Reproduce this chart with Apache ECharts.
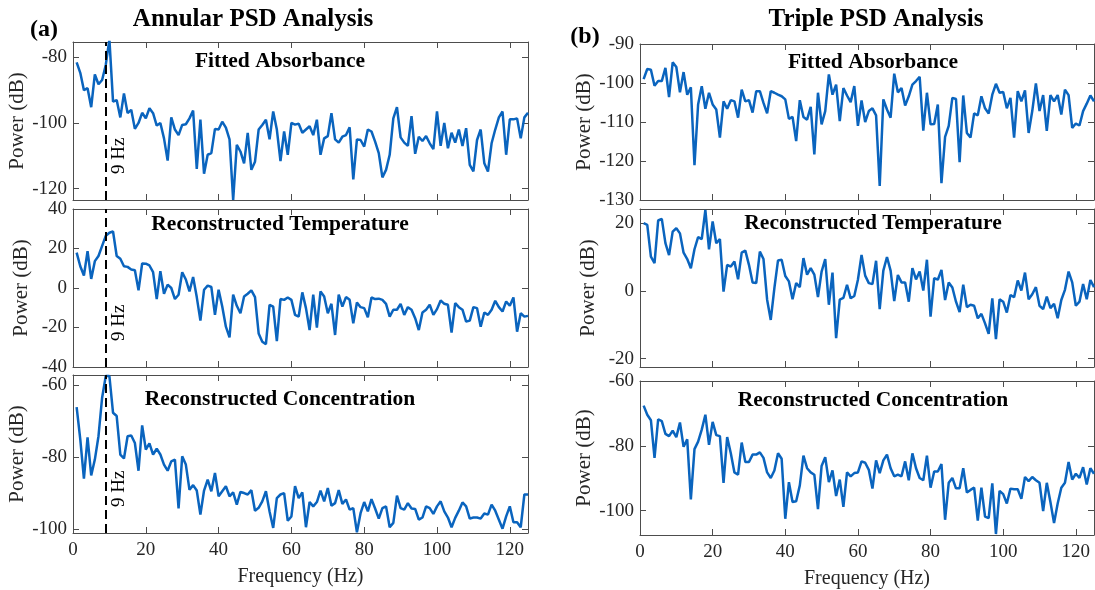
<!DOCTYPE html>
<html>
<head>
<meta charset="utf-8">
<title>Annular and Triple PSD Analysis</title>
<script src="https://cdn.jsdelivr.net/npm/echarts@6/dist/echarts.min.js"></script>
<style>
  html, body { margin: 0; padding: 0; background: #fff; }
  #chart { width: 1095px; height: 590px; }
</style>
</head>
<body>
<div id="chart"></div>
<script>
// frequency bins (Hz) shared by every panel
var freqHz = [];
for (var f = 1; f <= 125; f++) {
    freqHz.push(f);
}
var freqTicks = [0, 20, 40, 60, 80, 100, 120];
var markerHz = 9;

// (a) annular beam
var annularAbsorbance = [
    -81.5, -84.7, -90, -89.4, -95.2, -85.2, -88.2, -86.9, -82.3, -74.5,
    -93.5, -93, -98.3, -91, -97, -96, -101.8, -100, -96.9, -98.6,
    -95.5, -97, -100.8, -100, -104.7, -111.5, -98.3, -102, -103.7, -100.6,
    -100.4, -98.6, -96.2, -114, -99, -115.5, -109.7, -109.2, -101.8, -102,
    -99.6, -101.4, -105, -123.5, -106.7, -108.7, -112.3, -103, -114.3, -111.8,
    -102, -100.6, -99, -105, -96.5, -102, -111.6, -102.6, -109.7, -100,
    -100.5, -100.2, -103, -102, -101, -103.7, -99, -109.7, -104.7, -104,
    -97, -105, -106, -104.2, -103.7, -101.3, -117.2, -105, -105.2, -107.2,
    -102, -102.6, -105.7, -109.2, -116.6, -114.3, -109.7, -98.6, -95.2, -104.4,
    -106, -107, -97.9, -109.4, -104.2, -105.5, -104, -106.2, -108, -96.5,
    -107, -100, -107.7, -103, -106, -102, -107, -101.6, -112.8, -114.8,
    -105.2, -102, -112.3, -114.8, -106.2, -102, -98.3, -96.5, -109.7, -98.9,
    -98.9, -98.6, -104.7, -98.3, -96.9
];
var annularTemperature = [
    17.9, 11, 6.3, 18.7, 4.6, 13.6, 16.2, 21.3, 26.4, 28,
    28.6, 16.2, 14.8, 11, 10.7, 9.4, 9, -1.2, 12.4, 12.3,
    11.4, 8, -5.6, 8.5, -2.9, 1.7, 0, -5.6, -3.4, 8,
    4.3, -1.7, 5.6, -4.6, -16.5, -0.9, 1.2, 0.5, -13.6, -0.9,
    -9.4, -19.6, -25, -3.4, -9, -12.8, -4.3, -2.9, -1.2, -4.6,
    -23, -27.2, -28.4, -8.5, -9.4, -26.9, -5.6, -6, -4.8, -6,
    -13.6, -14.5, -2.2, -10.2, -21.3, -3.4, -20, -1.7, -4.3, -12.8,
    -8, -23.8, -3.4, -9.4, -4.6, -6, -17.9, -7.3, -9.7, -10.2,
    -14.8, -4.8, -5.6, -5.4, -6, -8, -14.5, -11, -11, -8,
    -13.6, -9.7, -11, -15.3, -21.3, -12.4, -11, -8.5, -13.6, -10.7,
    -6.3, -8, -8.5, -22.6, -7.7, -9.7, -11, -17, -16.5, -9.7,
    -10.2, -19.6, -12.4, -13.6, -11, -6.5, -9.7, -11.9, -6.8, -9,
    -4.8, -22.1, -12.8, -14.5, -14.1
];
var annularConcentration = [
    -66, -75, -85.9, -74.4, -85, -80.6, -74.1, -63.4, -57.4, -57.4,
    -67.6, -68.5, -79.2, -80.3, -74.1, -73.9, -76, -83.7, -71.1, -77.8,
    -76.1, -79.2, -77.6, -79.2, -82, -83.7, -81.1, -80.6, -94.2, -79.7,
    -82, -89, -87.7, -89.2, -95.9, -89.2, -86.2, -89.4, -84.3, -90.8,
    -89.4, -88, -90.8, -89.7, -93.1, -89.6, -89.9, -90.3, -89.1, -94.8,
    -94, -92.2, -89.4, -95, -99.6, -91.3, -90.3, -89.9, -97.6, -96.4,
    -88, -91.3, -89.7, -99.4, -92.4, -93.6, -92.4, -89.2, -92.2, -88.5,
    -93.4, -92.7, -89.1, -92.9, -91.7, -94.5, -94.1, -100.8, -95.5, -92.4,
    -95, -91.6, -94.2, -97, -94.1, -93.6, -99.4, -98.2, -90.6, -94.1,
    -94.5, -92.7, -94.2, -94.3, -97.3, -96.7, -93.6, -94.1, -95.7, -93.6,
    -92.2, -95, -96.7, -99.4, -96.8, -94.8, -92.5, -93.6, -97, -96.7,
    -96.7, -97, -95.6, -95.9, -93.1, -94.8, -97.3, -99.8, -96.4, -93.6,
    -98, -98, -99.4, -90.3, -90.3
];

// (b) triple beam
var tripleAbsorbance = [
    -99, -96.4, -96.6, -100.7, -99.5, -99.5, -96.1, -103.6, -94.7, -95.9,
    -102.4, -97.2, -103, -101.1, -121.1, -105.5, -100.8, -106.6, -102.5, -105.5,
    -106.8, -114, -104.7, -106.6, -104.4, -104.7, -108.9, -101.7, -104.7, -104.4,
    -107.6, -102.1, -102.1, -105.1, -107.8, -102.1, -102.5, -103, -103.4, -104.2,
    -109.2, -108.7, -114.9, -104.4, -108.7, -109.4, -106.1, -118.3, -102.5, -110.6,
    -107.2, -97.8, -103, -100.4, -109.8, -101.3, -103.2, -104.9, -100.8, -111,
    -104.5, -110, -107.2, -106.5, -108.3, -126.4, -104.2, -106.8, -108.9, -97.6,
    -102.4, -101.3, -105.8, -103.4, -100.4, -99.5, -98.4, -112.2, -102.5, -110.6,
    -110.5, -105.5, -125.7, -113.8, -111, -103.8, -104.1, -120.3, -103.2, -112.8,
    -114, -107.8, -108.3, -103.4, -106.5, -107.8, -103, -100.2, -102.5, -102.3,
    -106.5, -103.8, -114, -102.1, -104.7, -101.9, -112.8, -107.2, -100.1, -107.2,
    -103.1, -112.3, -103.1, -104.7, -103.1, -108.1, -101.7, -103.1, -111.5, -110.4,
    -110.9, -107.2, -105.3, -103.2, -104.7
];
var tripleTemperature = [
    20, 19.5, 10.1, 8.2, 20.8, 21.3, 14.1, 10.6, 17.5, 18.5,
    17, 11.3, 9.4, 6.7, 12.3, 15.9, 15.3, 23.9, 12.3, 20.5,
    14.1, 15.3, -0.2, 7.7, 7.2, 8.7, 3.4, 11.3, 11.9, 7.7,
    2.5, 2.3, 11.6, 9.4, -2.6, -8.6, 0.8, 9, 9.2, 4.4,
    2.8, -2.5, 2.3, 1.1, 9.7, 4.8, 6.7, 4.8, -1.8, 5.7,
    9.4, -4.1, 5.4, -14, -2.6, -2.1, 1.8, -2.2, -1.5, 3.3,
    10.6, 4.5, 2.3, 2, 8.9, -5.4, 6, 10, 6, -3,
    4.7, 2.5, 2.5, -3.2, 6.7, 3.4, 5.7, 0.1, 9.2, -7.6,
    3.8, 3.3, 6.2, -2.7, 2.5, 1, -3.2, -6.3, 1.8, -4.8,
    -4.1, -4.4, -8.1, -6.8, -9.6, -12.7, -2.2, -14.3, -2.5, -3.2,
    -6.4, -1.2, -1.9, 3.1, 0.1, 5.4, -2.5, -1, 1.1, -4.4,
    -5.4, -1.7, -5.1, -3.8, -8.1, -2.7, 0.3, 5.7, 2.5, -4.4,
    -3.2, 2, -2.5, 3.2, 1.1
];
var tripleConcentration = [
    -67.6, -70.4, -72.1, -83.7, -71.8, -72.4, -76.3, -77, -75.3, -77.3,
    -72.8, -80.3, -78, -96.5, -81, -78.7, -75, -70.4, -79.7, -72.6,
    -76.7, -77, -91.4, -77.3, -82.3, -88.2, -88.9, -79, -85, -85,
    -82.7, -82.7, -82, -83.7, -88.2, -89.9, -87.6, -82.3, -84, -102.5,
    -91.2, -97.3, -97.1, -92.2, -83, -86.9, -88.2, -88.9, -99.5, -86.2,
    -83.5, -91.2, -87.6, -95.5, -90.4, -98.8, -88.2, -89.4, -88.4, -88.2,
    -84.8, -85.2, -87.4, -93.2, -84.5, -88.4, -84.5, -82.7, -86.9, -89.4,
    -88.9, -89.4, -84.8, -90.6, -82.3, -86.9, -89.9, -90.6, -83, -92.9,
    -87.9, -87.9, -85.6, -102.8, -91.4, -89.9, -93.1, -93.1, -86.9, -94.4,
    -93.6, -92.9, -103.1, -92.9, -101.8, -102.3, -91.6, -107.2, -93.9, -94.9,
    -97.8, -93.2, -93.4, -93.4, -96.3, -89.6, -90.9, -89.6, -90.6, -91.4,
    -100.1, -91.4, -97.3, -103.8, -97.8, -92.9, -91.4, -85, -90.4, -88.6,
    -89.9, -86.6, -91.9, -86.9, -88.6
];

// y tick values and y limits of each panel, top to bottom
var annularTicks = [[-120, -100, -80], [-40, -20, 0, 20, 40], [-100, -80, -60]];
var tripleTicks = [[-130, -120, -110, -100, -90], [-20, 0, 20], [-100, -80, -60]];
var annularLimits = [[-123.5, -75.3], [-40, 40], [-101, -57.1]];
var tripleLimits = [[-130, -90], [-22.5, 24.2], [-107.5, -60]];

var panelNames = ['Fitted Absorbance', 'Reconstructed Temperature', 'Reconstructed Concentration'];

var SERIF = '"Liberation Serif", "Times New Roman", serif';
var AXIS_COLOR = '#4d4d4d';
var TEXT_COLOR = '#262626';
var LINE_COLOR = '#0a64be';

function pairs(values) {
    return values.map(function (v, i) {
        return [freqHz[i], v];
    });
}

var grids = [], xAxes = [], yAxes = [], series = [], titles = [];

/**
 * Adds one boxed MATLAB-like panel: grid, 2 x axes, 2 y axes and the PSD line.
 */
function addPanel(box, values, ticks, limits, showFreq, withMarker) {
    var k = grids.length;
    grids.push(box);

    var lineStyle = {show: true, onZero: false, lineStyle: {color: AXIS_COLOR, width: 1}};
    var tickStyle = {show: true, inside: true, length: 6, lineStyle: {color: AXIS_COLOR, width: 1}};

    xAxes.push({
        gridIndex: k, type: 'value', min: 0, max: 125, interval: 20, position: 'bottom',
        axisLine: lineStyle, axisTick: tickStyle, splitLine: {show: false},
        axisLabel: {show: showFreq, fontFamily: SERIF, fontSize: 19, color: TEXT_COLOR, margin: 8},
        name: showFreq ? 'Frequency (Hz)' : '', nameLocation: 'middle', nameGap: 34,
        nameTextStyle: {fontFamily: SERIF, fontSize: 20, color: TEXT_COLOR}
    });
    xAxes.push({
        gridIndex: k, type: 'value', min: 0, max: 125, interval: 20, position: 'top',
        axisLine: lineStyle, axisTick: tickStyle, splitLine: {show: false},
        axisLabel: {show: false}
    });
    yAxes.push({
        gridIndex: k, type: 'value', min: limits[0], max: limits[1], position: 'left',
        axisLine: lineStyle, splitLine: {show: false},
        axisTick: Object.assign({customValues: ticks}, tickStyle),
        axisLabel: {customValues: ticks, fontFamily: SERIF, fontSize: 19, color: TEXT_COLOR, margin: 6},
        name: 'Power (dB)', nameLocation: 'middle', nameGap: 41,
        nameTextStyle: {fontFamily: SERIF, fontSize: 21, color: TEXT_COLOR}
    });
    yAxes.push({
        gridIndex: k, type: 'value', min: limits[0], max: limits[1], position: 'right',
        axisLine: lineStyle, splitLine: {show: false},
        axisTick: Object.assign({customValues: ticks}, tickStyle),
        axisLabel: {show: false}
    });

    var s = {
        type: 'line', xAxisIndex: 2 * k, yAxisIndex: 2 * k,
        data: pairs(values), showSymbol: false, clip: true,
        lineStyle: {color: LINE_COLOR, width: 2.5}
    };
    if (withMarker) {
        // the "9 Hz" note sits a little below the middle of the dashed line,
        // so it hangs on a short invisible segment of its own
        var span = limits[1] - limits[0];
        var anchor = limits[0] + 0.28 * span;
        s.markLine = {
            silent: true, symbol: ['none', 'none'],
            lineStyle: {color: '#000', type: [9, 5], width: 2},
            label: {
                show: false, fontFamily: SERIF, fontSize: 19, color: '#000', distance: 4,
                position: 'insideMiddleBottom', formatter: markerHz + ' Hz'
            },
            data: [
                {xAxis: markerHz},
                [
                    {
                        coord: [markerHz, anchor - 0.05 * span],
                        lineStyle: {color: 'rgba(0,0,0,0)', width: 0},
                        label: {show: true}
                    },
                    {coord: [markerHz, anchor + 0.05 * span]}
                ]
            ]
        };
    }
    series.push(s);
}

var annularData = [annularAbsorbance, annularTemperature, annularConcentration];
var tripleData = [tripleAbsorbance, tripleTemperature, tripleConcentration];
var leftBoxes = [
    {left: 73, top: 42, width: 455, height: 158},
    {left: 73, top: 209, width: 455, height: 158},
    {left: 73, top: 375, width: 455, height: 158}
];
var rightBoxes = [
    {left: 640, top: 44, width: 454, height: 156},
    {left: 640, top: 209, width: 454, height: 158},
    {left: 640, top: 381, width: 454, height: 157}
];
for (var r = 0; r < 3; r++) {
    addPanel(leftBoxes[r], annularData[r], annularTicks[r], annularLimits[r], r === 2, true);
}
for (var r2 = 0; r2 < 3; r2++) {
    addPanel(rightBoxes[r2], tripleData[r2], tripleTicks[r2], tripleLimits[r2], r2 === 2, false);
}

function addTitle(text, x, y, size) {
    titles.push({
        text: text, left: x, top: y, textAlign: 'center', padding: 0,
        textStyle: {fontFamily: SERIF, fontSize: size, fontWeight: 'bold', color: '#000'}
    });
}
addTitle('Annular PSD Analysis', 253, 7, 25);
addTitle('Triple PSD Analysis', 876, 7, 25);
addTitle('(a)', 44, 18, 24);
addTitle('(b)', 585, 25, 24);
var panelTitleY = [50, 213, 388];
var panelTitleYRight = [51, 212, 389];
for (var t = 0; t < 3; t++) {
    addTitle(panelNames[t], 280, panelTitleY[t], 21.5);
    addTitle(panelNames[t], 873, panelTitleYRight[t], 21.5);
}

var chart = echarts.init(document.getElementById('chart'), null, {renderer: 'canvas'});
chart.setOption({
    animation: false,
    backgroundColor: '#fff',
    title: titles,
    grid: grids,
    xAxis: xAxes,
    yAxis: yAxes,
    series: series
});
window.onresize = function () {
    chart.resize();
};
</script>
</body>
</html>
